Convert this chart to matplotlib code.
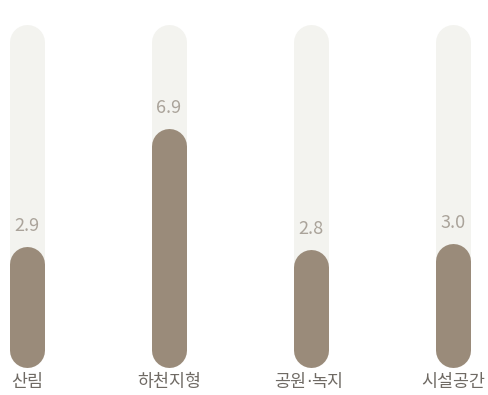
import matplotlib
matplotlib.use("Agg")
import matplotlib.pyplot as plt

categories = ["산림", "하천지형", "공원·녹지", "시설공간"]
values = [2.9, 6.9, 2.8, 3.0]
value_labels = ["2.9", "6.9", "2.8", "3.0"]

BG_MAX = 10.44
DPI = 100
plt.rcParams['font.family'] = ['Noto Sans CJK KR', 'DejaVu Sans']

fig = plt.figure(figsize=(4.89, 3.95), dpi=DPI)
ax = fig.add_axes([0, 0, 1, 1])
ax.set_xlim(-27 / 142, (489 - 27) / 142)
ax.set_ylim((349.5 - 395) / 29.5, 349.5 / 29.5)
ax.axis('off')

lw = 35 * 72 / DPI
px = 72 / DPI
cat_style = dict(textcoords='offset points', va='center', fontsize=12.5,
                 color='#6f6a64')
for i, (cat, v, lab) in enumerate(zip(categories, values, value_labels)):
    ax.plot([i, i], [0, BG_MAX], color='#f3f3ef', lw=lw, solid_capstyle='round')
    ax.plot([i, i], [0, v], color='#9a8b7a', lw=lw, solid_capstyle='round')
    ax.annotate(lab, (i, v), xytext=(0, 38 * px), textcoords='offset points',
                ha='center', va='center', fontsize=13, color='#aaa39a')
    if '·' in cat:
        left, right = cat.split('·')
        ax.annotate(left, (i, 0), xytext=(-5 * px, -33 * px), ha='right', **cat_style)
        ax.annotate('·', (i, 0), xytext=(-2.5 * px, -33 * px), ha='center',
                    **{**cat_style, 'family': ['DejaVu Sans']})
        ax.annotate(right, (i, 0), xytext=(0 * px, -33 * px), ha='left', **cat_style)
    else:
        ax.annotate(cat, (i, 0), xytext=(0, -33 * px), ha='center', **cat_style)

fig.savefig('out.png', dpi=DPI, facecolor='white')
